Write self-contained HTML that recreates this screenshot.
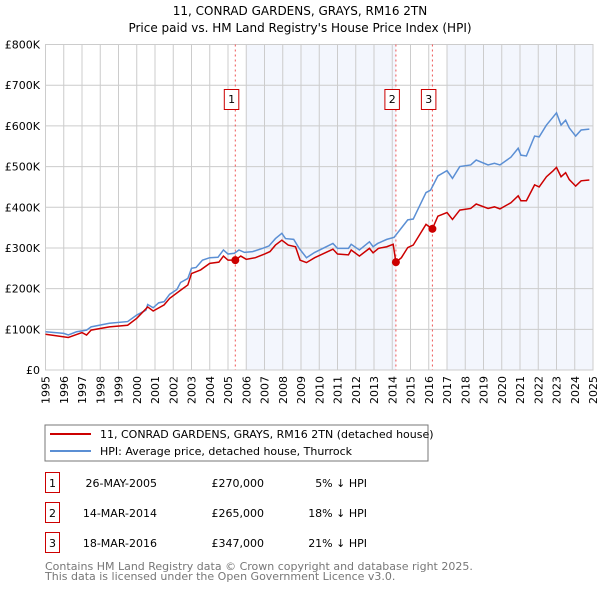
<!DOCTYPE html>
<html><head><meta charset="utf-8"><style>
body{margin:0;background:#fff;width:600px;height:590px;overflow:hidden;font-family:"DejaVu Sans","Liberation Sans",sans-serif;}
svg text{font-family:"DejaVu Sans","Liberation Sans",sans-serif;}
</style></head><body>
<svg id="c" width="600" height="590" xmlns="http://www.w3.org/2000/svg">
<text x="300" y="15" text-anchor="middle" font-size="12">11, CONRAD GARDENS, GRAYS, RM16 2TN</text>
<text x="300" y="32" text-anchor="middle" font-size="12">Price paid vs. HM Land Registry's House Price Index (HPI)</text>
<g id="plot"></g>
<g>
<rect x="45" y="425" width="383" height="36" fill="#fff" stroke="#777"/>
<line x1="50" y1="434" x2="91" y2="434" stroke="#cc0000" stroke-width="2"/>
<text x="100" y="438" font-size="11">11, CONRAD GARDENS, GRAYS, RM16 2TN (detached house)</text>
<line x1="50" y1="451" x2="91" y2="451" stroke="#5b8fd4" stroke-width="2"/>
<text x="100" y="455" font-size="11">HPI: Average price, detached house, Thurrock</text>
</g>
<g id="table" font-size="11"></g>
<text x="45" y="570" font-size="11" fill="#777">Contains HM Land Registry data © Crown copyright and database right 2025.</text>
<text x="45" y="580" font-size="11" fill="#777">This data is licensed under the Open Government Licence v3.0.</text>
</svg>
<script>
const hpiYears=[1995,1996,1996.25,1996.7,1997.25,1997.5,1998.5,1999.5,2000,2000.5,2000.6,2000.9,2001.2,2001.5,2001.8,2002.2,2002.4,2002.8,2003,2003.25,2003.6,2004,2004.45,2004.75,2005,2005.35,2005.6,2005.9,2006.35,2006.9,2007.25,2007.6,2007.95,2008.15,2008.6,2008.9,2009.3,2009.75,2010.75,2011,2011.6,2011.75,2012.2,2012.75,2012.95,2013.2,2013.7,2014.1,2014.85,2015.15,2015.85,2016.1,2016.5,2017,2017.3,2017.7,2018.3,2018.6,2019.25,2019.6,2019.9,2020.5,2020.9,2021.05,2021.35,2021.8,2022.05,2022.45,2022.8,2023,2023.25,2023.5,2023.7,2024.05,2024.35,2024.8];
const hpiValues=[94,90,86,94,98,106,115,119,135,147,161,153,165,168,186,198,215,225,250,252,270,276,277,295,285,287,295,289,291,299,305,323,336,323,321,299,276,289,311,299,299,309,295,315,303,311,321,326,369,371,436,442,477,490,471,500,504,516,504,508,504,523,545,528,526,575,573,602,621,632,602,614,595,575,590,592];
const priceYears=[1995,1996.25,1997,1997.25,1997.5,1998.5,1999.5,2000,2000.6,2000.9,2001.5,2001.8,2002.4,2002.8,2003,2003.5,2004,2004.5,2004.75,2005,2005.4,2005.7,2006,2006.5,2007,2007.3,2007.6,2007.95,2008.3,2008.7,2008.95,2009.3,2009.75,2010.75,2011,2011.6,2011.75,2012.2,2012.75,2012.95,2013.25,2013.7,2014.05,2014.2,2014.5,2014.85,2015.15,2015.85,2016,2016.2,2016.5,2017,2017.3,2017.7,2018.3,2018.6,2019.25,2019.6,2019.9,2020.5,2020.9,2021.05,2021.35,2021.8,2022.05,2022.45,2022.8,2023,2023.25,2023.5,2023.7,2024.05,2024.35,2024.8];
const priceValues=[88,80,92,86,98,106,110,127,155,145,160,176,196,209,237,246,262,265,280,270,270,280,272,276,285,291,307,319,307,303,270,264,276,297,285,283,295,280,299,288,299,303,309,265,276,301,307,358,353,347,378,387,370,393,397,408,397,401,396,411,428,416,416,455,450,475,489,498,475,485,468,452,465,467];
const saleYears=[2005.4,2014.2,2016.2];
const saleValues=[270,265,347];
const saleLabels=["1","2","3"];
const saleDates=["26-MAY-2005","14-MAR-2014","18-MAR-2016"];
const salePrices=["£270,000","£265,000","£347,000"];
const salePcts=["5% ↓ HPI","18% ↓ HPI","21% ↓ HPI"];
const yTicks=[0,100,200,300,400,500,600,700,800];
const yTickLabels=["£0","£100K","£200K","£300K","£400K","£500K","£600K","£700K","£800K"];
const xTicks=[1995,1996,1997,1998,1999,2000,2001,2002,2003,2004,2005,2006,2007,2008,2009,2010,2011,2012,2013,2014,2015,2016,2017,2018,2019,2020,2021,2022,2023,2024,2025];

const L=45.5,R=593,T=44.5,B=370;
const x=y=>L+(y-1995)*(R-L)/30;
const yS=v=>B-v*(B-T)/800;
const NS="http://www.w3.org/2000/svg";
const plot=document.getElementById('plot');
function mk(tag,attrs,parent){const e=document.createElementNS(NS,tag);for(const k in attrs)e.setAttribute(k,attrs[k]);(parent||plot).appendChild(e);return e;}

let s1=mk('rect',{x:x(2006),y:T,width:x(saleYears[1])-x(2006),height:B-T,fill:'#eef2fc',opacity:0.7});


let s2=mk('rect',{x:x(2017),y:T,width:R-x(2017),height:B-T,fill:'#eef2fc',opacity:0.7});



yTicks.forEach((t,i)=>{
  let g=mk('line',{x1:L,x2:R,y1:yS(t),y2:yS(t),stroke:'#ccc','stroke-width':1});
  
  
  let tx=mk('text',{x:40,y:yS(t)+4,'text-anchor':'end','font-size':11});
  tx.textContent=yTickLabels[i];
  
  
});
xTicks.forEach(t=>{
  let g=mk('line',{x1:x(t),x2:x(t),y1:T,y2:B,stroke:'#ccc','stroke-width':1});
  
  
  let tx=mk('text',{x:0,y:0,'text-anchor':'end','font-size':11,transform:`translate(${x(t)+4},${B+6}) rotate(-90)`});
  tx.textContent=t;
  
  
});
let fr=mk('rect',{x:L,y:T,width:R-L,height:B-T,fill:'none',stroke:'#ccc'});



saleYears.forEach((sy,i)=>{
  let d=mk('line',{x1:x(sy),x2:x(sy),y1:T,y2:B,stroke:'#ee5555','stroke-width':1,'stroke-dasharray':'2,3'});
  
  
  let b=mk('rect',{x:x(sy)-11,y:89.5,width:14.5,height:20,fill:'#fff',stroke:'#cc0000'});
  
  
  let t=mk('text',{x:x(sy)-3.7,y:103,'text-anchor':'middle','font-size':11});
  t.textContent=saleLabels[i];
  
  
});

let hp=mk('polyline',{points:hpiYears.map((yy,i)=>x(yy)+','+yS(hpiValues[i])).join(' '),fill:'none',stroke:'#5b8fd4','stroke-width':1.5});


let pp=mk('polyline',{points:priceYears.map((yy,i)=>x(yy)+','+yS(priceValues[i])).join(' '),fill:'none',stroke:'#cc0000','stroke-width':1.5});


saleYears.forEach((sy,i)=>{
  let c=mk('circle',{cx:x(sy),cy:yS(saleValues[i]),r:4,fill:'#cc0000'});
  
  
});

const tb=document.getElementById('table');
saleLabels.forEach((lb,i)=>{
  const cy=483+i*30;
  let b=mk('rect',{x:45.5,y:cy-10.5,width:14,height:20,fill:'#fff',stroke:'#cc0000'},tb);
  
  
  const cells=[[52.5,'middle',lb,'table-num'],[157,'end',saleDates[i],'table-date'],[264,'end',salePrices[i],'table-price'],[367,'end',salePcts[i],'table-hpi-diff']];
  cells.forEach(c=>{
    let t=mk('text',{x:c[0],y:cy+4,'text-anchor':c[1]},tb);
    t.textContent=c[2];
    
    
  });
});
</script>
</body></html>
